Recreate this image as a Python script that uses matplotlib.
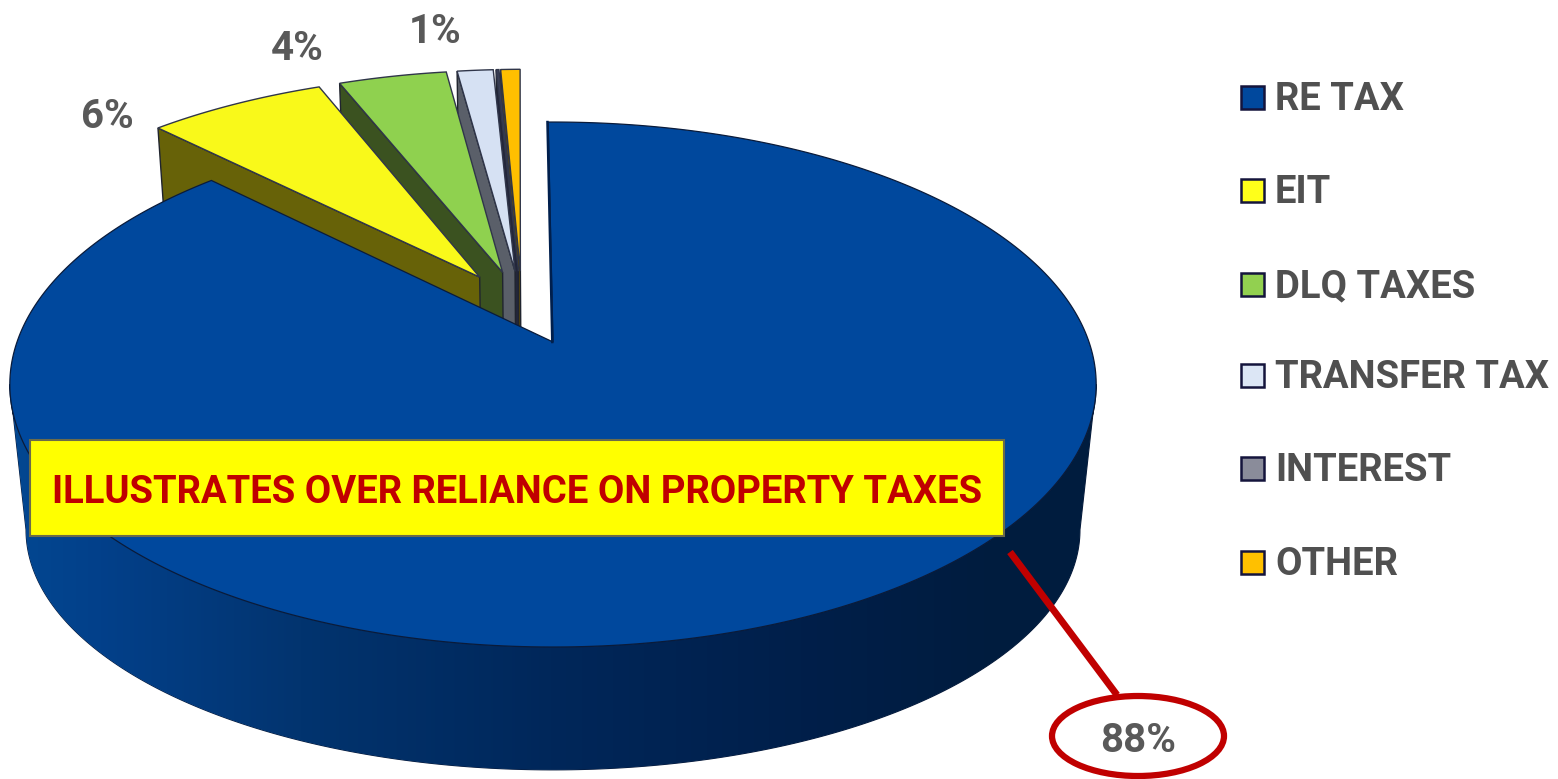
import numpy as np
import matplotlib
matplotlib.use("Agg")
from matplotlib import pyplot as plt
from matplotlib.patches import Ellipse, Polygon, Rectangle

categories = ["RE TAX", "EIT", "DLQ TAXES", "TRANSFER TAX", "INTEREST", "OTHER"]
values = [87.6, 6.4, 3.9, 1.3, 0.1, 0.7]
value_labels = ["88%", "6%", "4%", "1%"]

top_colors = ["#00489D", "#F9F91A", "#8FD14F", "#D6E1F3", "#3A3F55", "#FFBF00"]
wall_colors = ["#00275A", "#676208", "#3B5220", "#5A5F69", "#23263A", "#6E5500"]
legend_colors = ["#00489D", "#FFFF1A", "#92D050", "#DCE6F5", "#8A8C9A", "#FFC000"]

START_ANGLE = -0.6
EXPLODE = 0.151

plt.rcParams["font.family"] = ["Roboto", "Liberation Sans"]


def project_top(u, v):
    w = 1 + 0.162 * v
    return 553 + 536 * u / w, 342 - 255.6 * v / w


def project_bottom(u, v):
    w = 1 + 0.162 * v
    return 553 + 520 * u / w, 491 - 233.7 * v / w


def slice_geometry(values):
    # angles run clockwise from 12 o'clock, in degrees
    edges = START_ANGLE + np.cumsum([0] + list(values)) * 3.6
    mids = (edges[:-1] + edges[1:]) / 2
    dirs = np.array([np.sin(np.radians(mids)), np.cos(np.radians(mids))]).T
    # every slice is pulled out by the same amount from a common centre,
    # the disc origin sits on the apex of the biggest slice
    centre = -EXPLODE * dirs[0]
    apexes = centre + EXPLODE * dirs
    return edges, apexes


def rim(apex, a0, a1, n=2):
    ang = np.radians(np.linspace(a0, a1, n))
    return apex[0] + np.sin(ang), apex[1] + np.cos(ang)


def wall_color(x):
    xs = [0, 100, 300, 550, 800, 1000, 1100]
    rs = [3, 2, 2, 0, 0, 0, 0]
    gs = [72, 64, 52, 39, 31, 28, 28]
    bs = [146, 138, 111, 90, 74, 62, 62]
    return np.array([np.interp(x, xs, rs), np.interp(x, xs, gs), np.interp(x, xs, bs)]).T / 255


fig, ax = plt.subplots(figsize=(15.58, 7.79), dpi=100)
fig.subplots_adjust(0, 0, 1, 1)
ax.axis("off")

edges, apexes = slice_geometry(values)

# small exploded slices, right one first so the left ones paint over it
for i in range(len(values) - 1, 0, -1):
    a0, a1 = edges[i], edges[i + 1]
    ap = apexes[i]
    ru, rv = rim(ap, a0, a0)
    wall = [project_top(ru[0], rv[0]), project_top(ap[0], ap[1]),
            project_bottom(ap[0], ap[1]), project_bottom(ru[0], rv[0])]
    ax.add_patch(Polygon(wall, fc=wall_colors[i], ec="#20242E", lw=1, zorder=2))
    ru, rv = rim(ap, a0, a1, 30)
    xs, ys = project_top(np.r_[ap[0], ru], np.r_[ap[1], rv])
    ax.add_patch(Polygon(np.c_[xs, ys], fc=top_colors[i], ec="#30364A", lw=1, zorder=2))

# front wall of the big slice, a horizontal gradient clipped to its outline
ap = apexes[0]
ru, rv = rim(ap, 99.3, 260.7, 240)
x0, y0 = project_top(ru, rv)
x1, y1 = project_bottom(ru, rv)
outline = np.r_[np.c_[x0, y0], np.c_[x1, y1][::-1]]
wall_patch = Polygon(outline, fc="none", ec="#0A1B3A", lw=0.8, zorder=3)
ax.add_patch(wall_patch)
grad_x = np.arange(0, 1100)
img = ax.imshow(wall_color(grad_x)[np.newaxis, :, :], extent=(0, 1100, 779, 0), aspect="auto", zorder=3)
img.set_clip_path(wall_patch)

# top of the big slice
ru, rv = rim(ap, edges[0], edges[1], 400)
xs, ys = project_top(np.r_[ap[0], ru], np.r_[ap[1], rv])
ax.add_patch(Polygon(np.c_[xs, ys], fc=top_colors[0], ec="#0A1B3A", lw=0.9, zorder=4))
ax.plot(xs[[0, 1]] - 0.7, ys[[0, 1]], color="#001F4D", lw=1.8, zorder=4)

# percentage labels
label_style = dict(color="#595959", fontsize=29, fontweight="bold", ha="center", va="baseline", zorder=6)
ax.text(107, 128, value_labels[1], **label_style)
ax.text(297, 60, value_labels[2], **label_style)
ax.text(435, 43, value_labels[3], **label_style)

# callout for the big slice
ax.plot([1010, 1117], [552, 695], color="#C00000", lw=5, solid_capstyle="butt", zorder=5)
ax.add_patch(Ellipse((1138, 736), 172, 80, fc="white", ec="#C00000", lw=4.5, zorder=6))
ax.text(1138, 752, value_labels[0], color="#595959", fontsize=29, fontweight="bold", ha="center",
        va="baseline", zorder=7)

# note box
ax.add_patch(Rectangle((30, 440), 974, 96, fc="#FFFF00", ec="#6B6B4A", lw=1.5, zorder=6))
ax.text(517, 503, "ILLUSTRATES OVER RELIANCE ON PROPERTY TAXES", color="#C00000", fontsize=27.5,
        fontweight="bold", ha="center", va="baseline", zorder=7)

# legend
legend_y = [97, 190, 284, 375, 468, 562]
for name, col, y in zip(categories, legend_colors, legend_y):
    ax.add_patch(Rectangle((1241, y - 11.5), 23, 23, fc=col, ec="#14143C", lw=1.8, zorder=6))
    ax.text(1275, y + 13, name, color="#505050", fontsize=27.5, fontweight="bold", ha="left",
            va="baseline", zorder=6)

ax.set_xlim(0, 1558)
ax.set_ylim(779, 0)
fig.savefig("out.png", dpi=100)
